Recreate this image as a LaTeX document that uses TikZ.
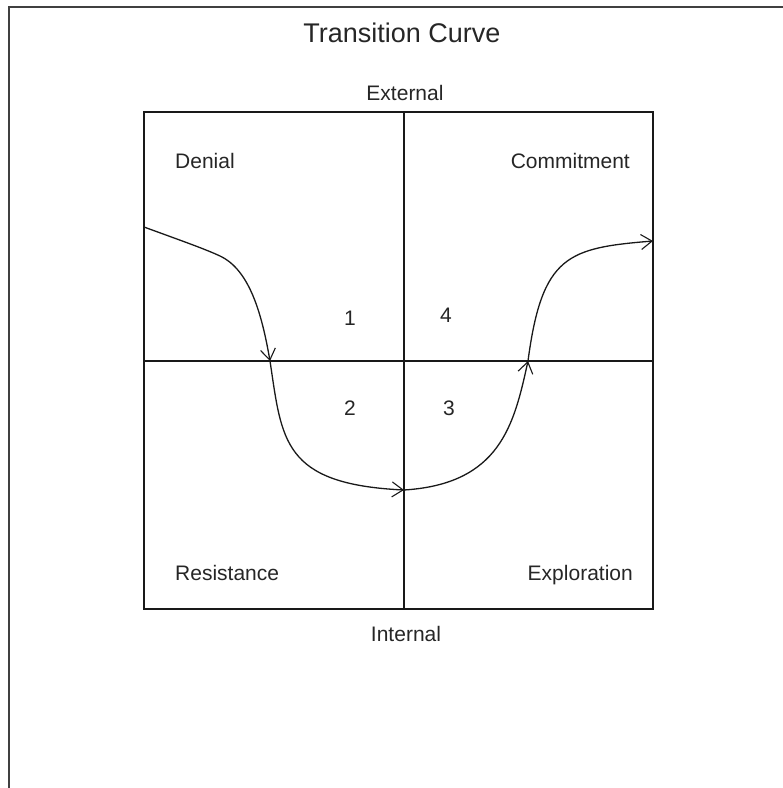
\documentclass[tikz,border=0pt]{standalone}
\usepackage{fontspec}
\setmainfont{Liberation Sans}
\usetikzlibrary{arrows.meta}
\begin{document}
\begin{tikzpicture}[x=1pt,y=-1pt,
  frame/.style={line width=2pt,draw=black!75},
  grid/.style={line width=1.3pt,draw=black!90},
  curve/.style={line width=1.3pt,draw=black!90,-{Straight Barb[length=11pt,width=15pt,line width=1.1pt]}},
  lbl/.style={font=\fontsize{21}{24}\selectfont,inner sep=0pt,text=black!85},
  ttl/.style={font=\fontsize{27}{31}\selectfont,inner sep=0pt,text=black!85}]
\useasboundingbox (0,0) rectangle (783,788);
\draw[frame] (8.5,788) -- (8.5,6.5) -- (783,6.5);
% square
\coordinate (tl) at (144,112);
\coordinate (br) at (653,609);
\draw[grid] (tl) rectangle (br);
\coordinate (mt) at (404,112);
\coordinate (mb) at (404,609);
\coordinate (ml) at (144,361);
\coordinate (mr) at (653,361);
\draw[grid] (mt) -- (mb);
\draw[grid] (ml) -- (mr);
% texts
\node[ttl] (title) at (402,33) {Transition Curve};
\node[lbl] (ext) at (405,93) {External};
\node[lbl] (int) at (406,634) {Internal};
\node[lbl,anchor=base west] (den) at (175,168) {Denial};
\node[lbl,anchor=base east] (com) at (630,168) {Commitment};
\node[lbl,anchor=base west] (res) at (175,580) {Resistance};
\node[lbl,anchor=base east] (exp) at (633,580) {Exploration};
\node[lbl] (n1) at (350,318) {1};
\node[lbl] (n4) at (446,315) {4};
\node[lbl] (n2) at (350,408) {2};
\node[lbl] (n3) at (449,408) {3};
% curve
\coordinate (c0) at (144,227);
\coordinate (cb) at (220,256);
\coordinate (c1) at (270,361);
\coordinate (c2) at (404,490);
\coordinate (c3) at (528,361);
\coordinate (c4) at (653,241);
\draw[curve] (c0) .. controls (185,242) and (205,249) .. (cb) .. controls (250,270) and (262,315) .. (c1);
\draw[curve] (c1) .. controls (282,440) and (282,484) .. (c2);
\draw[curve] (c2) .. controls (500,484) and (514,425) .. (c3);
\draw[curve] (c3) .. controls (542,255) and (568,248) .. (c4);
\end{tikzpicture}
\end{document}
